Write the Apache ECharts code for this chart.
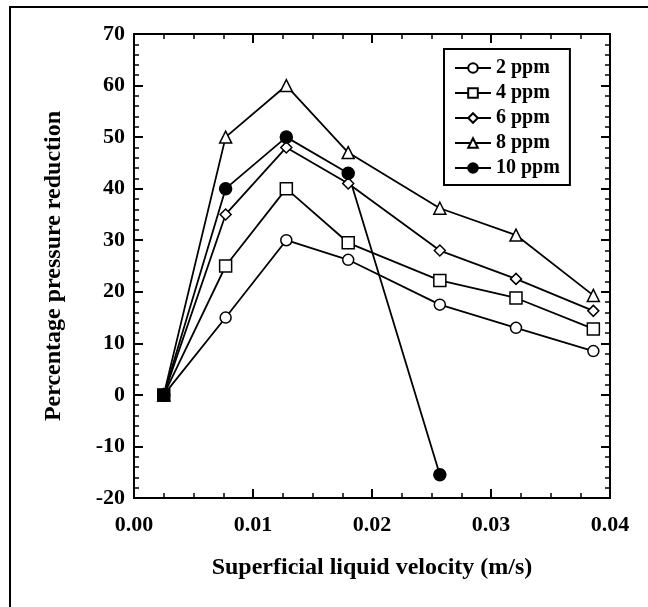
<!DOCTYPE html>
<html>
<head>
<meta charset="utf-8">
<script src="https://cdn.jsdelivr.net/npm/echarts@6/dist/echarts.min.js"></script>
<style>
  html, body { margin: 0; padding: 0; background: #fff; }
  #chart { width: 648px; height: 607px; }
</style>
</head>
<body>
<div id="chart"></div>
<script>
// superficial liquid velocity (m/s)
const velocity = [0.0025, 0.0077, 0.0128, 0.018, 0.0257, 0.0321, 0.0386]

// percentage pressure reduction per concentration
const ppm2 = [0, 15, 30, 26.2, 17.5, 13, 8.5]
const ppm4 = [0, 25, 40, 29.5, 22.2, 18.8, 12.8]
const ppm6 = [0, 35, 48, 41, 28, 22.5, 16.3]
const ppm8 = [0, 50, 60, 47, 36.2, 31, 19.3]
const ppm10 = [0, 40, 50, 43, -15.5]

const names = ['2 ppm', '4 ppm', '6 ppm', '8 ppm', '10 ppm']

const font = '"Liberation Serif", "Times New Roman", serif'
const chart = echarts.init(document.getElementById('chart'))

const pairs = (ys) => ys.map((y, i) => [velocity[i], y])

const makeSeries = (name, ys, symbol, size, fill) => ({
  name,
  type: 'line',
  data: pairs(ys),
  symbol,
  symbolSize: size,
  showAllSymbol: true,
  lineStyle: { color: '#000', width: 1.8 },
  itemStyle: { color: fill, borderColor: '#000', borderWidth: 1.5 },
  emphasis: { disabled: true }
})

// shared axis look
const tickFont = { color: '#000', fontFamily: font, fontWeight: 'bold', fontSize: 22 }
const nameFont = { color: '#000', fontFamily: font, fontWeight: 'bold', fontSize: 24 }
const xBase = {
  type: 'value',
  min: 0,
  max: 0.04,
  interval: 0.01,
  axisLine: { show: true, onZero: false, lineStyle: { color: '#000', width: 2 } },
  axisTick: { show: true, inside: true, length: 9, lineStyle: { color: '#000', width: 2 } },
  minorTick: { show: true, splitNumber: 4, length: 5, lineStyle: { color: '#000', width: 1.5 } },
  splitLine: { show: false }
}
const yBase = {
  type: 'value',
  min: -20,
  max: 70,
  interval: 10,
  axisLine: { show: true, onZero: false, lineStyle: { color: '#000', width: 2 } },
  axisTick: { show: true, inside: true, length: 9, lineStyle: { color: '#000', width: 2 } },
  minorTick: { show: true, splitNumber: 5, length: 5, lineStyle: { color: '#000', width: 1.5 } },
  splitLine: { show: false }
}

const s4 = makeSeries('4 ppm', ppm4, 'rect', 12, '#fff')
// overlapping origin point shows as a dark square
s4.data[0] = { value: s4.data[0], itemStyle: { color: '#000' } }

const option = {
  animation: false,
  backgroundColor: '#fff',
  grid: { left: 134, right: 38, top: 34, bottom: 109 },
  graphic: [
    {
      type: 'rect',
      shape: { x: 10, y: 7, width: 700, height: 700 },
      style: { fill: 'none', stroke: '#000', lineWidth: 2 },
      silent: true
    }
  ],
  legend: {
    data: names,
    orient: 'vertical',
    left: 444,
    top: 49,
    padding: [9, 10, 7, 10],
    itemGap: 5,
    itemWidth: 36,
    itemHeight: 12,
    borderColor: '#000',
    borderWidth: 2,
    backgroundColor: '#fff',
    textStyle: { color: '#000', fontFamily: font, fontWeight: 'bold', fontSize: 20 }
  },
  xAxis: [
    Object.assign({}, xBase, {
      position: 'bottom',
      name: 'Superficial liquid velocity (m/s)',
      nameLocation: 'middle',
      nameGap: 58,
      nameTextStyle: nameFont,
      axisLabel: Object.assign({ margin: 16, formatter: (v) => v.toFixed(2) }, tickFont)
    }),
    Object.assign({}, xBase, { position: 'top', axisLabel: { show: false } })
  ],
  yAxis: [
    Object.assign({}, yBase, {
      position: 'left',
      name: 'Percentage pressure reduction',
      nameLocation: 'middle',
      nameGap: 68,
      nameTextStyle: nameFont,
      axisLabel: Object.assign({ margin: 9 }, tickFont)
    }),
    Object.assign({}, yBase, { position: 'right', axisLabel: { show: false } })
  ],
  series: [
    makeSeries('2 ppm', ppm2, 'circle', 11, '#fff'),
    makeSeries('6 ppm', ppm6, 'diamond', 11, '#fff'),
    makeSeries('8 ppm', ppm8, 'triangle', 12, '#fff'),
    makeSeries('10 ppm', ppm10, 'circle', 12, '#000'),
    s4
  ]
}
chart.setOption(option)
</script>
</body>
</html>
